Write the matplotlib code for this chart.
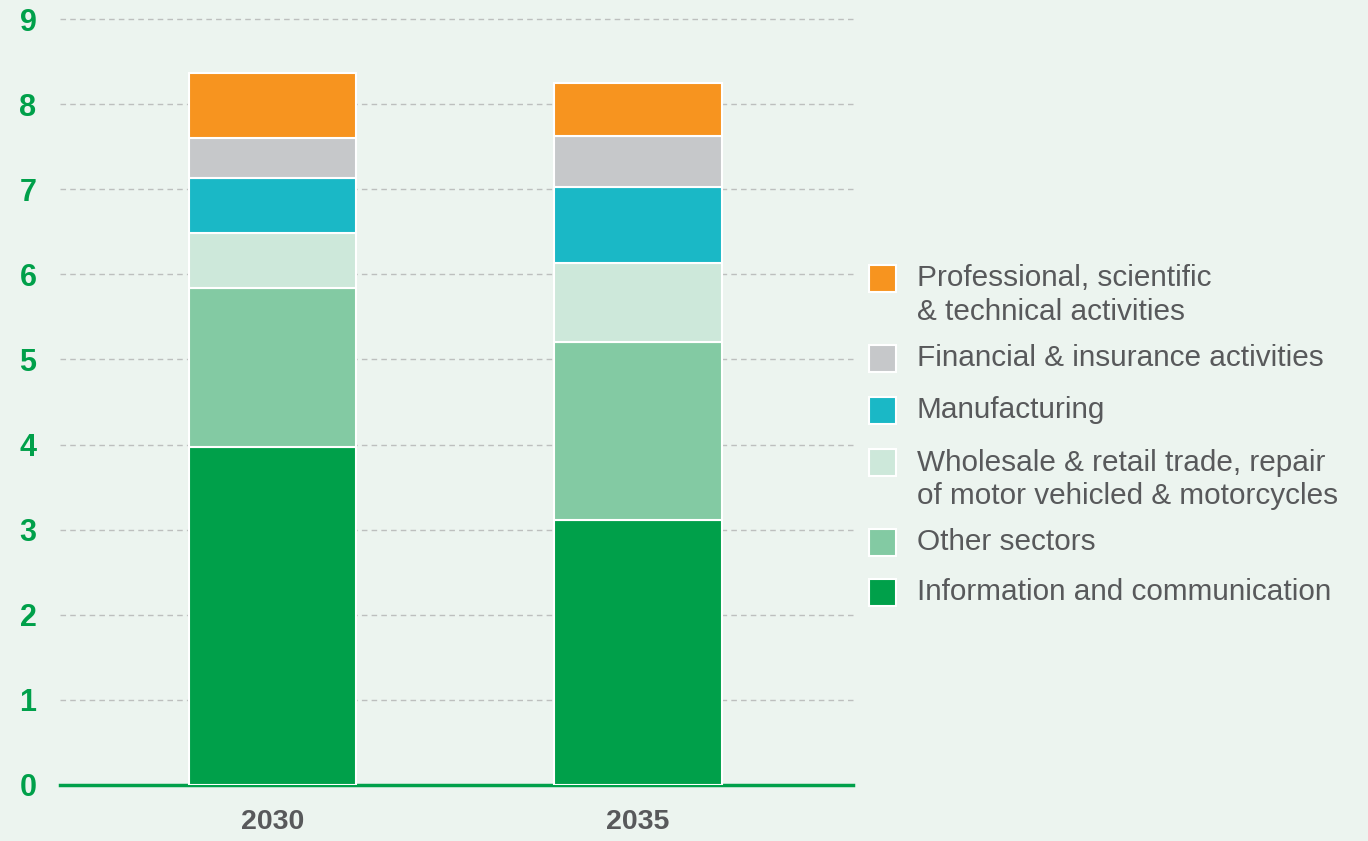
import matplotlib
matplotlib.use("Agg")
import matplotlib.pyplot as plt
from matplotlib.patches import Rectangle
from matplotlib.transforms import Bbox
import numpy as np

years = ["2030", "2035"]
series = [
    "Information and communication",
    "Other sectors",
    "Wholesale & retail trade, repair\nof motor vehicled & motorcycles",
    "Manufacturing",
    "Financial & insurance activities",
    "Professional, scientific\n& technical activities",
]
info_comm = [3.97, 3.11]
other_sectors = [1.87, 2.10]
wholesale = [0.65, 0.92]
manufacturing = [0.64, 0.90]
financial = [0.47, 0.60]
professional = [0.76, 0.62]
values = [info_comm, other_sectors, wholesale, manufacturing, financial, professional]
colors = ["#00A04A", "#83CAA3", "#CDE8DA", "#1AB8C6", "#C6C8CA", "#F7941F"]
yticks = list(range(0, 10))

BG = "#ECF4EF"
W, H = 1368, 841
fig = plt.figure(figsize=(W / 100, H / 100), dpi=100, facecolor=BG)
plt.rcParams['font.family'] = ['Liberation Sans', 'DejaVu Sans']

# axes in pixel coords: left 60, right 853, top 19, bottom 785
ax = fig.add_axes([60 / W, 1 - 785 / H, (853 - 60) / W, (785 - 19) / H])
ax.set_facecolor(BG)

x = np.arange(len(years))
bottom = np.zeros(len(years))
for vals, col in zip(values, colors):
    ax.bar(x, vals, bottom=bottom, width=0.457, color=col, edgecolor="white",
           linewidth=1.5, zorder=3)
    bottom += np.array(vals)

ax.set_xlim(-0.581, 1.588)
ax.set_ylim(0, 9)
for t in yticks[1:]:
    ax.axhline(t, color="#BDBFBE", linewidth=1, linestyle=(0, (4, 3)), zorder=1,
               clip_on=False)
ax.axhline(0, color="#00A04A", linewidth=2.5, zorder=2, clip_on=False)

for s in ax.spines.values():
    s.set_visible(False)
ax.set_yticks(yticks)
ax.set_yticklabels([str(t) for t in yticks], fontsize=22, fontweight="bold", color="#00A04A")
ax.tick_params(axis="y", length=0, pad=23)
for lab in ax.get_yticklabels():
    lab.set_horizontalalignment("center")
ax.set_xticks(x)
ax.set_xticklabels(years, fontsize=20.5, fontweight="bold", color="#58595B")
ax.tick_params(axis="x", length=0, pad=17)

# legend (manual), ordered top to bottom
clip = Bbox.from_extents(0, 0, 1339, H)
leg_order = [5, 4, 3, 2, 1, 0]
centers = [278, 358, 410, 462, 542, 592]
for idx, cy in zip(leg_order, centers):
    sq = 27
    fig.add_artist(Rectangle(((869) / W, 1 - (cy + sq / 2) / H), sq / W, sq / H,
                             transform=fig.transFigure, facecolor=colors[idx],
                             edgecolor="white", linewidth=1.5))
    lines = series[idx].split("\n")
    for k, line in enumerate(lines):
        base = cy + 8.5 + k * 33.5
        t = fig.text(917 / W, 1 - base / H, line, fontsize=21.4, color="#58595B",
                     ha="left", va="baseline")
        t.set_clip_box(clip)
        t.set_clip_on(True)

fig.savefig("out.png", dpi=100, facecolor=BG)
